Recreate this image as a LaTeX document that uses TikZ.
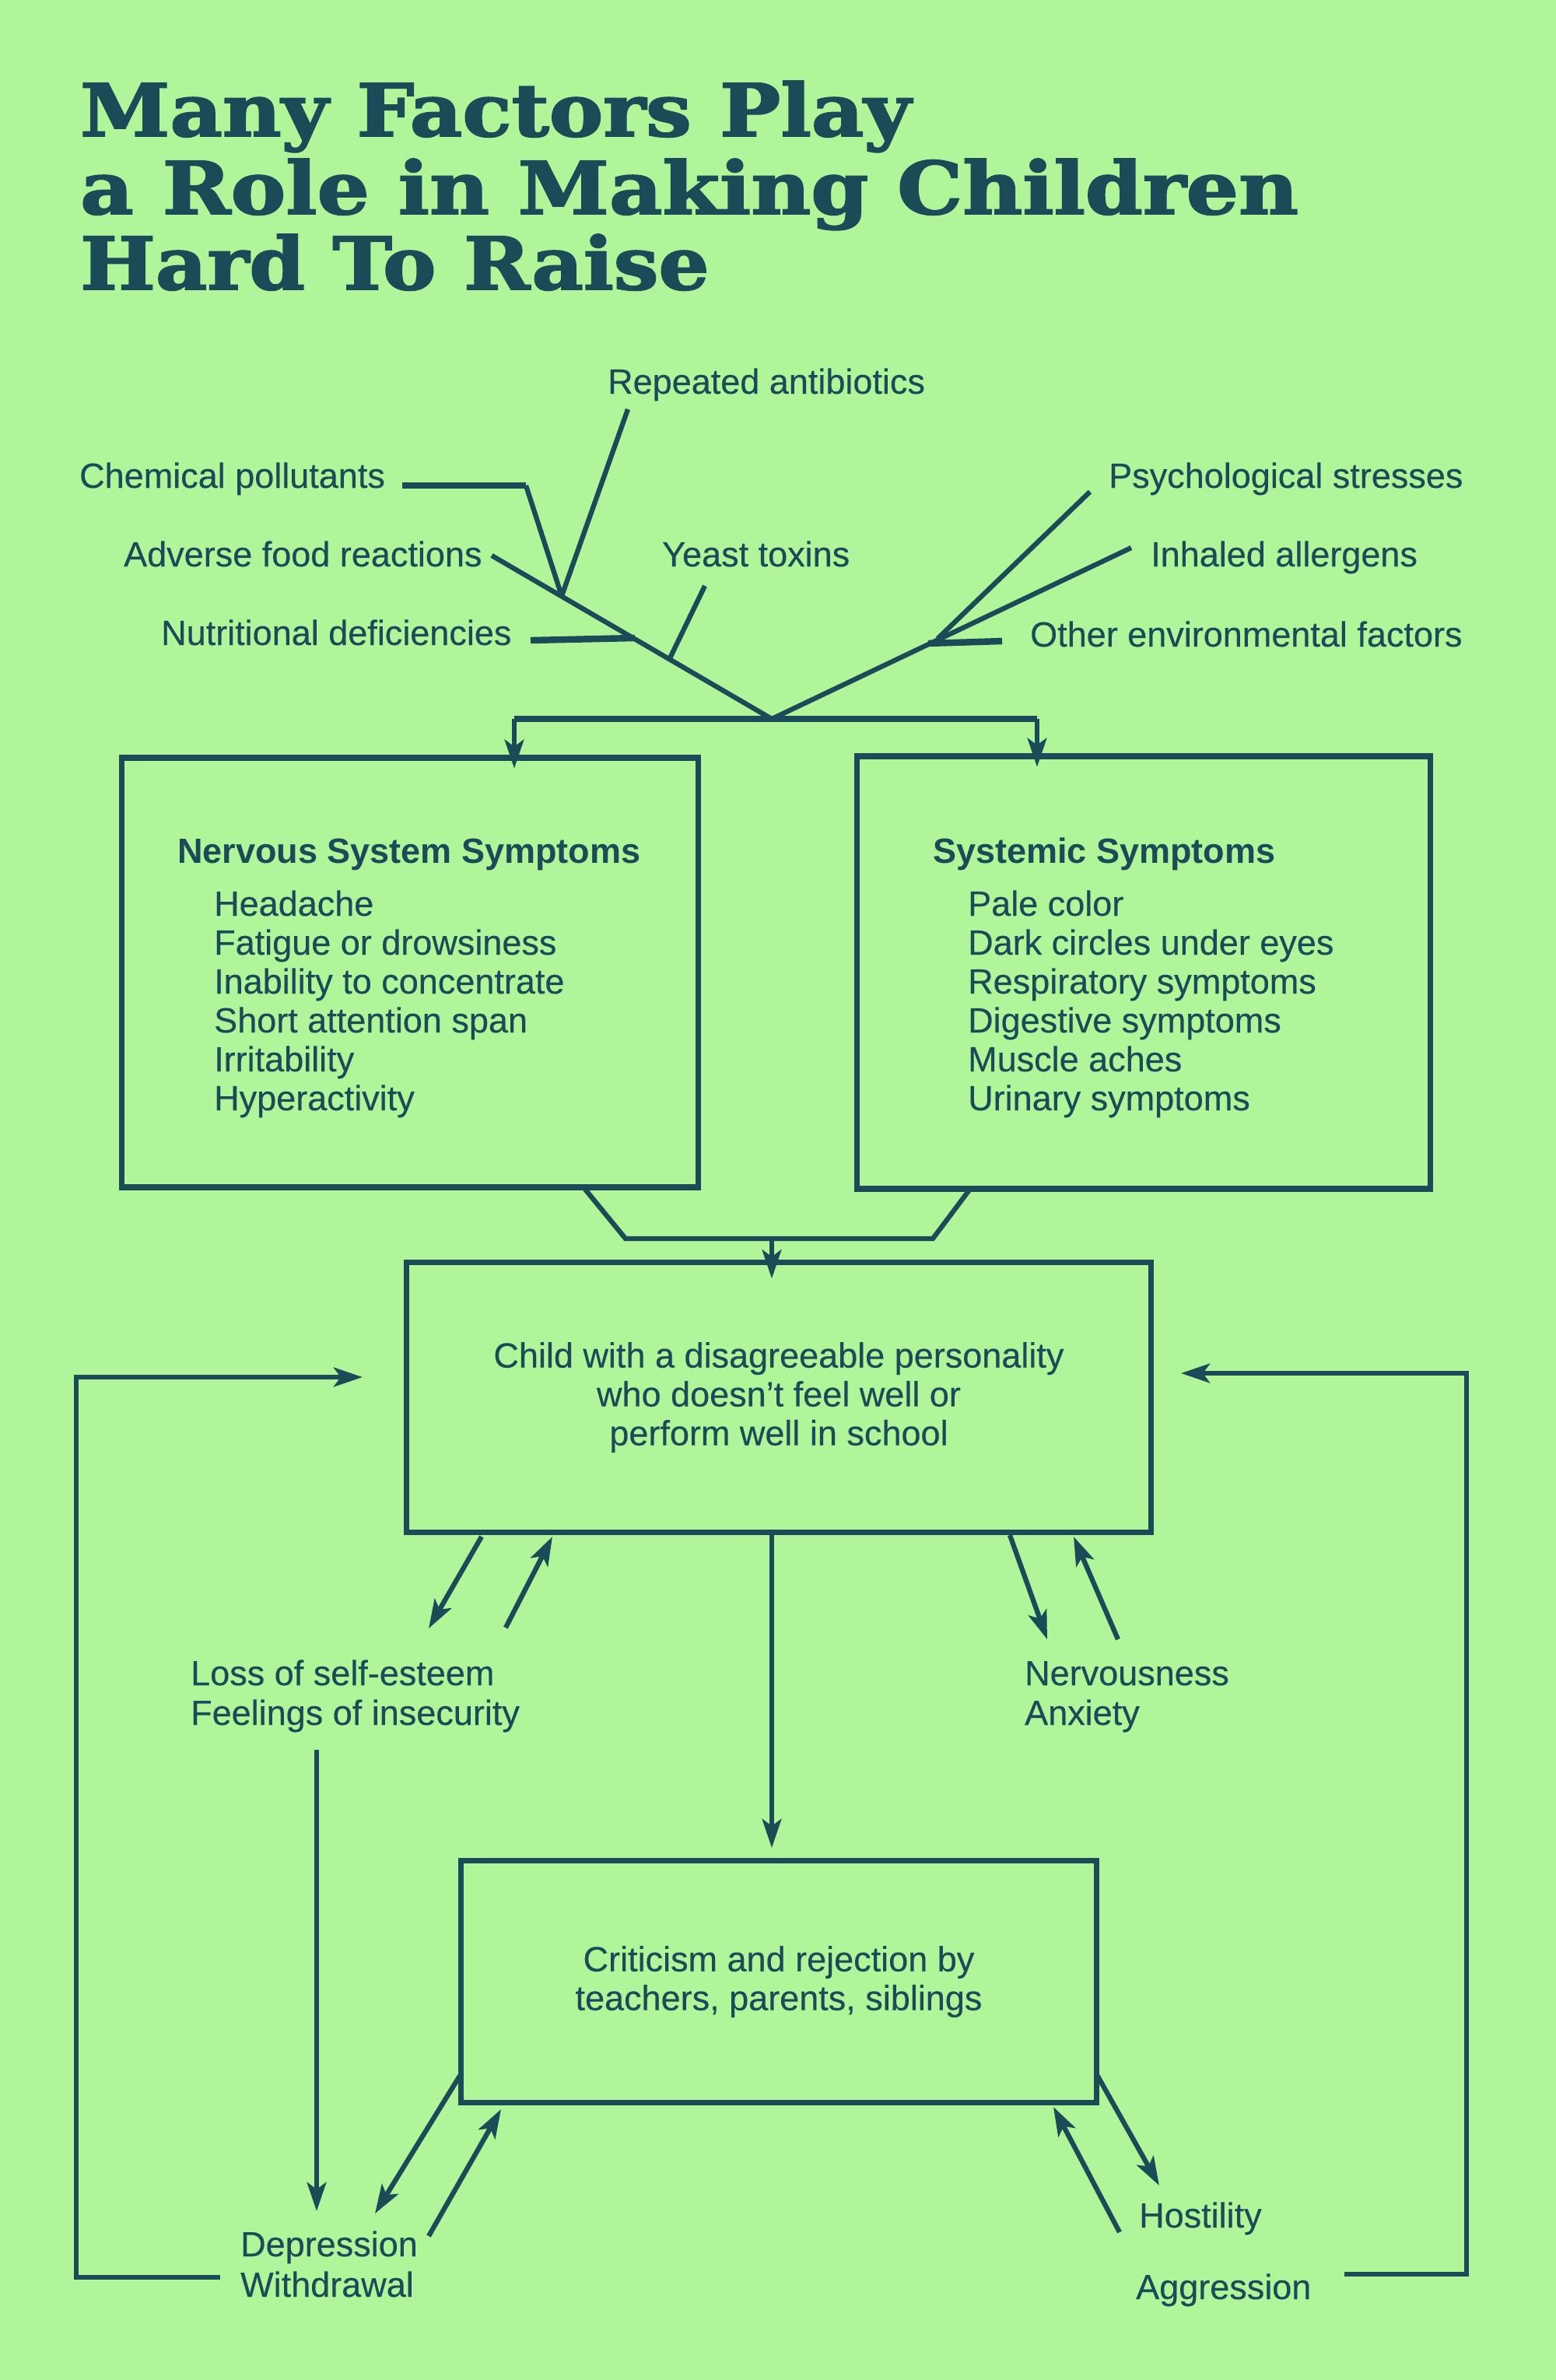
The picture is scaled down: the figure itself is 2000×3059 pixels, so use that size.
\documentclass[tikz,border=0pt]{standalone}
\usepackage{fontspec}
\usepackage{graphicx}
\setmainfont{Liberation Sans}[UprightFeatures={FakeBold=0.3}]
\newfontfamily\titlefont{DejaVu Serif}[BoldFeatures={FakeBold=2}]
\usetikzlibrary{arrows.meta,positioning,calc}
\definecolor{paper}{HTML}{B1F59B}
\definecolor{ink}{HTML}{1B4B57}
\begin{document}
\begin{tikzpicture}[x=0.01cm, y=-0.01cm, line width=1.8pt, ink,
    txt/.style={font=\fontsize{12.8}{14.2}\selectfont, inner sep=0pt},
    bold/.style={font=\fontsize{12.8}{14.2}\selectfont\bfseries, inner sep=0pt},
    box/.style={draw, line width=2.1pt, inner sep=0pt},
    arr/.style={-{Stealth[length=10.5pt, width=7pt, inset=2.5pt]}},
    stub/.style={line width=2.4pt}]
    \fill[paper] (0,0) rectangle (2000,3059);
    \useasboundingbox (0,0) rectangle (2000,3059);
    % title
    \node[anchor=base west, inner sep=0pt] (title1) at (100,175) {\resizebox{10.67cm}{0.71cm}{\titlefont\bfseries Many Factors Play}};
    \node[anchor=base west, inner sep=0pt] (title2) at (100,275) {\resizebox{15.65cm}{0.71cm}{\titlefont\bfseries a Role in Making Children}};
    \node[anchor=base west, inner sep=0pt] (title3) at (100,372) {\resizebox{8.08cm}{0.71cm}{\titlefont\bfseries Hard To Raise}};
    % factors
    \foreach \name/\x/\y/\label in {anti/778/506/Repeated antibiotics, chem/99/627/Chemical pollutants,
        adv/156/728/Adverse food reactions, yeast/848/728/Yeast toxins, nutr/204/829/Nutritional deficiencies,
        psy/1422/627/Psychological stresses, inh/1476/728/Inhaled allergens, oth/1321/831/Other environmental factors}
        \node[txt, anchor=base west] (\name) at (\x,\y) {\label};
    \coordinate (hub) at (992,924);
    \coordinate (lend) at (632,714);
    \coordinate (rend) at (1454,704);
    \coordinate (jchem) at (722,766);
    \coordinate (jnutr) at (816,820);
    \coordinate (jyeast) at (861,846);
    \coordinate (jpsy) at (1205,821);
    \coordinate (jother) at (1193,827);
    \coordinate (chemS) at (517,624);
    \coordinate (chemC) at (676,624);
    \coordinate (antiS) at (807,526);
    \coordinate (nutrS) at (682,823);
    \coordinate (yeastS) at (906,753);
    \coordinate (psyS) at (1401,632);
    \coordinate (othS) at (1288,824);
    \draw (lend) -- (hub) -- (rend);
    \draw[stub] (chemS) -- (chemC);
    \draw (chemC) -- (jchem);
    \draw (antiS) -- (jchem);
    \draw[stub] (nutrS) -- (jnutr);
    \draw (yeastS) -- (jyeast);
    \draw (psyS) -- (jpsy);
    \draw[stub] (othS) -- (jother);
    % symptom boxes
    \node[box, minimum width=7.41cm, minimum height=5.52cm] (nervous) at (527,1250) {};
    \node[box, minimum width=7.37cm, minimum height=5.56cm] (systemic) at (1470,1250) {};
    \node[bold, anchor=base west] (nervhead) at (225,1109) {Nervous System Symptoms};
    \foreach \item [count=\i] in {Headache, Fatigue or drowsiness, Inability to concentrate,
        Short attention span, Irritability, Hyperactivity}
        \node[txt, anchor=base west] (nerv\i) at (272,1127+50*\i) {\item};
    \node[bold, anchor=base west] (syshead) at (1196,1109) {Systemic Symptoms};
    \foreach \item [count=\i] in {Pale color, Dark circles under eyes, Respiratory symptoms,
        Digestive symptoms, Muscle aches, Urinary symptoms}
        \node[txt, anchor=base west] (sys\i) at (1241,1127+50*\i) {\item};
    \coordinate (barL) at (661,924);
    \coordinate (barR) at (1333,924);
    \draw[stub] (barL) -- (barR);
    \draw[arr, shorten >=-5pt] (barL) -- (barL |- nervous.north);
    \draw[arr, shorten >=-5pt] (barR) -- (barR |- systemic.north);
    % child box
    \node[box, txt, align=center, minimum width=9.57cm, minimum height=3.47cm] (child) at (1001,1796)
        {Child with a disagreeable personality\\who doesn’t feel well or\\perform well in school};
    \coordinate (nb) at (750,1526);
    \coordinate (nbc) at (804,1592);
    \coordinate (sbc) at (1199,1592);
    \coordinate (sb) at (1247,1528);
    \coordinate (join) at (992,1592);
    \draw (nb) -- (nbc) -- (sbc) -- (sb);
    \draw[arr, shorten >=-7pt] (join) -- (join |- child.north);
    % feelings
    \node[txt, anchor=base west] (loss) at (242,2166) {Loss of self-esteem};
    \node[txt, anchor=base west] (insec) at (242,2217) {Feelings of insecurity};
    \node[txt, anchor=base west] (nervousness) at (1314,2166) {Nervousness};
    \node[txt, anchor=base west] (anxiety) at (1314,2217) {Anxiety};
    \coordinate (a1s) at (619,1975);  \coordinate (a1e) at (551,2093);
    \coordinate (a2s) at (650,2092);  \coordinate (a2e) at (710,1975);
    \coordinate (a3s) at (1298,1973); \coordinate (a3e) at (1346,2107);
    \coordinate (a4s) at (1437,2107); \coordinate (a4e) at (1380,1975);
    \draw[arr] (a1s) -- (a1e);
    \draw[arr] (a2s) -- (a2e);
    \draw[arr] (a3s) -- (a3e);
    \draw[arr] (a4s) -- (a4e);
    % criticism box
    \node[box, txt, align=center, minimum width=8.16cm, minimum height=3.11cm] (critic) at (1001,2547)
        {Criticism and rejection by\\teachers, parents, siblings};
    \coordinate (mid) at (992,1970);
    \coordinate (midE) at (992,2375);
    \draw[arr] (mid) -- (midE);
    \coordinate (insS) at (407,2249);
    \coordinate (insE) at (407,2842);
    \draw[arr] (insS) -- (insE);
    \node[txt, anchor=base west] (depression) at (306,2900) {Depression};
    \node[txt, anchor=base west] (withdrawal) at (306,2952) {Withdrawal};
    \node[txt, anchor=base west] (hostility) at (1461,2863) {Hostility};
    \node[txt, anchor=base west] (aggression) at (1457,2955) {Aggression};
    \coordinate (b1s) at (591,2668);  \coordinate (b1e) at (482,2845);
    \coordinate (b2s) at (551,2874);  \coordinate (b2e) at (644,2711);
    \coordinate (b3s) at (1439,2869); \coordinate (b3e) at (1354,2708);
    \coordinate (b4s) at (1409,2665); \coordinate (b4e) at (1490,2809);
    \draw[arr] (b1s) -- (b1e);
    \draw[arr] (b2s) -- (b2e);
    \draw[arr] (b3s) -- (b3e);
    \draw[arr] (b4s) -- (b4e);
    % feedback loops
    \coordinate (lbot) at (283,2927);
    \coordinate (lcorner) at (98,1770);
    \coordinate (ltip) at (466,1770);
    \coordinate (rbot) at (1728,2923);
    \coordinate (rcorner) at (1885,1765);
    \coordinate (rtip) at (1518,1765);
    \draw[arr] (lbot) -| (lcorner) -- (ltip);
    \draw[arr] (rbot) -| (rcorner) -- (rtip);
\end{tikzpicture}
\end{document}
